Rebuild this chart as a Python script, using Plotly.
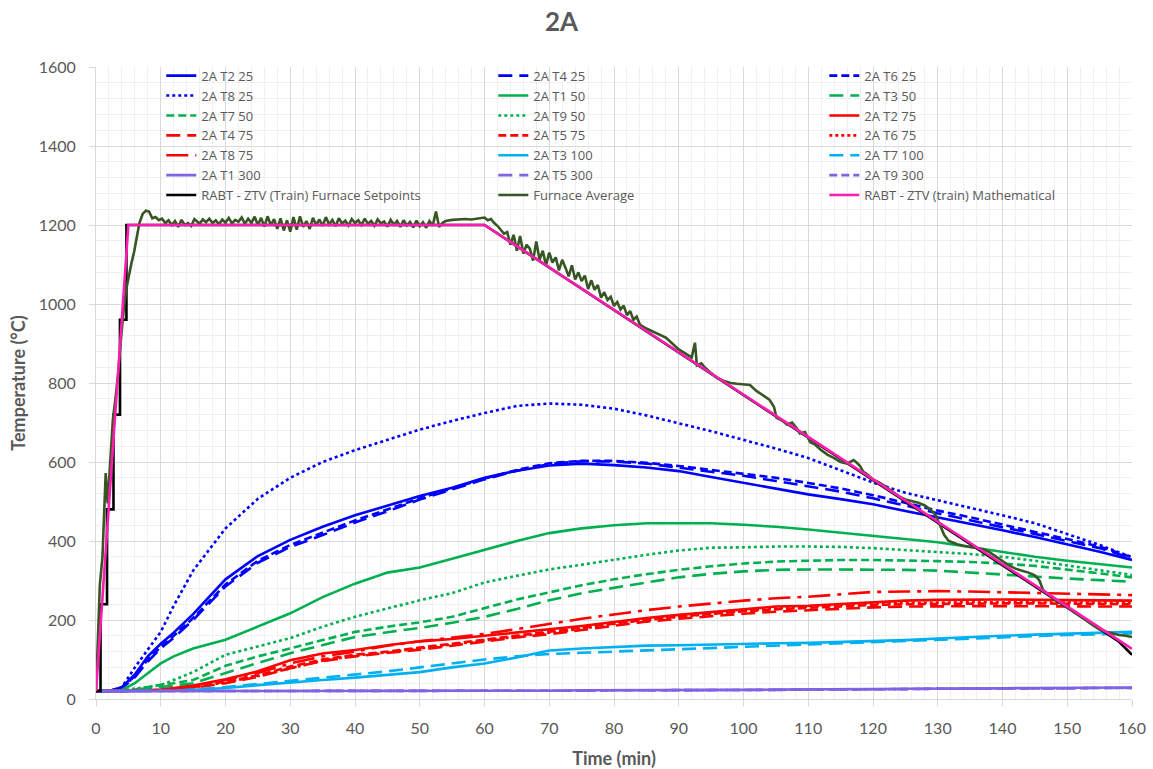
import plotly.graph_objects as go

# ---- time grid (min) shared by the thermocouple series ----
time_min = [0, 2, 4, 6, 8, 10, 12, 15, 20, 25, 30, 35, 40, 45, 50, 55, 60, 65, 70, 75,
            80, 85, 90, 95, 100, 105, 110, 115, 120, 125, 130, 135, 140, 145, 150, 155, 160]

# ---- thermocouple readings (°C), depth 25 mm ----
t2_25 = [20, 20, 30, 62, 108, 140, 168, 215, 303, 362, 403, 436, 465, 490, 514, 535, 560, 578, 591, 596,
         592, 586, 577, 562, 547, 532, 518, 506, 493, 476, 460, 443, 427, 410, 392, 373, 352]
t4_25 = [20, 20, 28, 55, 95, 128, 155, 200, 285, 345, 385, 415, 447, 475, 505, 530, 556, 578, 595, 602,
         601, 596, 586, 575, 565, 552, 538, 525, 508, 490, 470, 452, 435, 418, 400, 382, 356]
t6_25 = [20, 20, 29, 58, 100, 132, 160, 205, 290, 350, 390, 422, 452, 480, 508, 533, 558, 580, 597, 603,
         603, 598, 590, 580, 570, 560, 547, 533, 516, 497, 477, 460, 441, 423, 405, 386, 359]
t8_25 = [20, 20, 30, 80, 125, 170, 236, 325, 432, 507, 560, 600, 630, 656, 682, 704, 724, 742, 748, 745,
         735, 718, 698, 678, 656, 634, 610, 580, 548, 522, 503, 485, 465, 445, 418, 390, 359]

# ---- depth 50 mm ----
t1_50 = [20, 20, 23, 40, 65, 90, 108, 128, 150, 184, 217, 258, 292, 320, 333, 355, 377, 400, 420, 432,
         440, 445, 445, 445, 441, 436, 429, 421, 413, 405, 397, 385, 372, 360, 350, 342, 333]
t3_50 = [20, 20, 20, 24, 27, 30, 34, 40, 66, 91, 116, 137, 157, 169, 180, 193, 208, 228, 250, 268,
         282, 295, 308, 317, 323, 327, 328, 328, 328, 327, 325, 320, 314, 309, 305, 301, 297]
t7_50 = [20, 20, 20, 24, 30, 36, 40, 48, 84, 108, 128, 149, 170, 183, 194, 208, 230, 252, 270, 288,
         303, 316, 327, 336, 343, 348, 350, 352, 352, 351, 349, 347, 343, 337, 328, 318, 308]
t9_50 = [20, 20, 22, 26, 30, 35, 48, 68, 112, 133, 154, 183, 208, 229, 250, 268, 295, 312, 328, 340,
         353, 365, 376, 383, 384, 386, 386, 385, 382, 377, 373, 367, 360, 350, 338, 326, 314]

# ---- depth 75 mm ----
t2_75 = [20, 20, 20, 21, 22, 24, 28, 34, 50, 70, 98, 115, 124, 136, 146, 152, 160, 168, 176, 185,
         195, 205, 213, 220, 228, 234, 236, 240, 245, 249, 251, 252, 252, 251, 250, 250, 249]
t4_75 = [20, 20, 20, 20, 21, 22, 24, 28, 40, 56, 78, 96, 108, 116, 125, 135, 145, 156, 164, 175,
         185, 196, 203, 210, 216, 221, 225, 229, 232, 234, 235, 235, 235, 235, 234, 234, 234]
t5_75 = [20, 20, 20, 20, 21, 22, 25, 30, 44, 60, 82, 100, 112, 120, 130, 140, 150, 160, 170, 180,
         190, 201, 209, 216, 222, 227, 231, 235, 238, 240, 241, 242, 242, 242, 241, 241, 240]
t6_75 = [20, 20, 20, 20, 21, 22, 24, 29, 42, 58, 78, 97, 110, 118, 128, 138, 147, 158, 168, 178,
         190, 200, 208, 216, 223, 229, 234, 238, 241, 243, 244, 245, 245, 245, 244, 244, 243]
t8_75 = [20, 20, 20, 21, 22, 23, 26, 32, 48, 66, 90, 108, 120, 135, 146, 155, 165, 177, 190, 203,
         214, 225, 234, 242, 249, 255, 259, 265, 271, 272, 273, 272, 270, 268, 266, 264, 263]

# ---- depth 100 mm ----
t3_100 = [20, 20, 20, 20, 20, 20, 21, 23, 28, 35, 42, 48, 54, 61, 68, 80, 90, 105, 123, 128,
          131, 135, 136, 138, 140, 141, 142, 144, 146, 149, 153, 157, 160, 163, 165, 167, 170]
t7_100 = [20, 20, 20, 20, 20, 20, 21, 24, 30, 38, 46, 53, 62, 70, 80, 90, 100, 108, 114, 117,
          120, 124, 127, 130, 133, 136, 139, 142, 145, 148, 151, 154, 157, 160, 162, 164, 166]

# ---- depth 300 mm ----
t1_300 = [20, 20, 20, 20, 20, 20, 20, 20, 20, 20, 20, 20, 20, 20, 20, 21, 21, 21, 21, 22,
          22, 22, 22, 23, 23, 24, 24, 25, 25, 26, 26, 27, 27, 28, 28, 29, 29]
t5_300 = [20, 20, 20, 20, 20, 20, 20, 20, 20, 20, 20, 20, 20, 20, 20, 20, 21, 21, 21, 21,
          22, 22, 22, 22, 23, 23, 24, 24, 25, 25, 26, 26, 27, 27, 27, 28, 28]
t9_300 = [20, 20, 20, 20, 20, 20, 20, 20, 20, 20, 20, 20, 20, 20, 20, 20, 21, 21, 21, 21,
          22, 22, 22, 22, 23, 23, 24, 24, 25, 25, 26, 26, 26, 27, 27, 28, 28]

# ---- furnace setpoints (stepped ramp, hold, then cooling) ----
sp_time = [0, 0.7, 0.7, 1.7, 1.7, 2.7, 2.7, 3.7, 3.7, 4.7, 4.7, 60, 158, 160]
sp_temp = [20, 20, 240, 240, 480, 480, 720, 720, 960, 960, 1200, 1200, 145, 112]

# ---- RABT-ZTV (train) mathematical curve ----
math_time = [0, 5, 60, 160]
math_temp = [20, 1200, 1200, 127]

# ---- furnace average, recorded in segments ----
fa_time_heat = [0, 0.3, 0.6, 1.0, 1.3, 1.5, 1.8, 2.2, 2.6, 3.0, 3.4, 3.8, 4.3, 4.7, 5.1, 5.5, 5.9,
                6.3, 6.7, 7.2, 7.7, 8.2, 8.7, 9.2, 9.7, 10.2, 10.7, 11.2, 11.7, 12.2, 12.7, 13.2,
                13.7, 14.2, 14.7, 15.2]
fa_temp_heat = [20, 180, 290, 360, 470, 572, 495, 610, 706, 760, 820, 900, 990, 1040, 1075, 1105,
                1133, 1170, 1205, 1228, 1236, 1234, 1217, 1220, 1212, 1216, 1205, 1212, 1200, 1210,
                1195, 1213, 1200, 1205, 1198, 1215]

fa_time_hold = [15.5, 16, 16.5, 17, 17.5, 18, 18.5, 19, 19.5, 20, 20.5, 21, 21.5, 22, 22.5, 23,
                23.5, 24, 24.5, 25, 25.5, 26, 26.5, 27, 27.5, 28, 28.5, 29, 29.5, 30, 30.5, 31,
                31.5, 32, 32.5, 33, 33.5, 34, 34.5, 35, 35.5, 36, 36.5, 37, 37.5, 38, 38.5, 39,
                39.5, 40, 40.5, 41, 41.5, 42, 42.5, 43, 43.5, 44, 44.5, 45, 45.5, 46, 46.5, 47,
                47.5, 48, 48.5, 49, 49.5, 50, 50.5, 51, 51.5, 52, 52.5, 53, 53.5, 54, 55, 56, 57,
                58, 59, 60, 60.5, 61, 61.5]
fa_temp_hold = [1210, 1203, 1214, 1207, 1216, 1205, 1212, 1202, 1214, 1206, 1218, 1204, 1213, 1208,
                1219, 1203, 1216, 1205, 1221, 1200, 1218, 1196, 1222, 1199, 1215, 1190, 1217, 1186,
                1212, 1183, 1220, 1188, 1222, 1195, 1210, 1190, 1218, 1200, 1214, 1198, 1220, 1202,
                1213, 1197, 1217, 1204, 1211, 1199, 1215, 1205, 1212, 1200, 1216, 1203, 1210, 1198,
                1214, 1204, 1209, 1196, 1213, 1201, 1210, 1195, 1212, 1199, 1208, 1194, 1211, 1197,
                1207, 1193, 1210, 1198, 1234, 1195, 1205, 1210, 1213, 1214, 1215, 1214, 1217, 1219,
                1212, 1215, 1205]

fa_time_cool1 = [62, 62.5, 63, 63.5, 64, 64.5, 65, 65.5, 66, 66.5, 67, 67.5, 68, 68.5, 69, 69.5,
                 70, 70.5, 71, 71.5, 72, 72.5, 73, 73.5, 74, 74.5, 75, 75.5, 76, 76.5, 77, 77.5,
                 78, 78.5, 79, 79.5, 80, 80.5, 81, 81.5, 82, 82.5, 83, 83.5, 84]
fa_temp_cool1 = [1198, 1188, 1178, 1182, 1150, 1175, 1135, 1172, 1128, 1150, 1140, 1110, 1158, 1112,
                 1135, 1098, 1130, 1105, 1118, 1085, 1112, 1092, 1070, 1098, 1062, 1080, 1058, 1072,
                 1038, 1060, 1036, 1048, 1016, 1030, 1010, 1018, 995, 1005, 986, 996, 972, 982, 960,
                 968, 948]

fa_time_cool2 = [85, 86, 87, 88, 89, 90, 91, 92, 92.5, 92.8, 93.5, 94, 95, 96, 97, 98, 99, 100, 101,
                 102, 103, 104, 104.7, 105.1, 106, 106.7, 107.5, 108.2, 108.7, 109.5, 110.3, 111,
                 112, 113, 114, 115, 116, 117, 117.5, 118, 118.5, 119, 120, 121, 122, 123, 124, 125,
                 126, 127, 128, 129, 129.7, 130.3, 131, 131.7, 133, 134, 135, 136, 137, 138, 139,
                 140, 141, 142, 143, 144, 145, 145.7, 146.3, 147, 148, 149, 150, 151, 152, 153, 154,
                 155, 156, 157, 158, 159, 160]
fa_temp_cool2 = [938, 930, 922, 915, 900, 885, 875, 865, 902, 845, 850, 840, 825, 812, 805, 800, 798,
                 796, 795, 780, 770, 758, 740, 712, 705, 695, 700, 686, 672, 676, 650, 645, 630, 618,
                 610, 600, 596, 605, 598, 590, 575, 570, 556, 548, 537, 525, 513, 505, 500, 497, 490,
                 478, 465, 440, 415, 400, 392, 388, 385, 382, 379, 372, 360, 350, 338, 330, 325, 320,
                 313, 300, 275, 265, 253, 243, 232, 222, 210, 198, 186, 176, 170, 166, 162, 160, 157]

fa_time = fa_time_heat + fa_time_hold + fa_time_cool1 + fa_time_cool2
fa_temp = fa_temp_heat + fa_temp_hold + fa_temp_cool1 + fa_temp_cool2

BLUE, GREEN, RED = "#0000FF", "#00B050", "#FF0000"
CYAN, PURPLE = "#00B0F0", "#7F63E4"
SHORT, LONG, DOT, LONGDOT = "8px,4px", "14px,7px", "3px,3px", "22px,7px,4px,7px"

series = [
    ("2A T2 25", t2_25, BLUE, "solid"),
    ("2A T4 25", t4_25, BLUE, LONG),
    ("2A T6 25", t6_25, BLUE, SHORT),
    ("2A T8 25", t8_25, BLUE, DOT),
    ("2A T1 50", t1_50, GREEN, "solid"),
    ("2A T3 50", t3_50, GREEN, LONG),
    ("2A T7 50", t7_50, GREEN, SHORT),
    ("2A T9 50", t9_50, GREEN, DOT),
    ("2A T2 75", t2_75, RED, "solid"),
    ("2A T4 75", t4_75, RED, LONG),
    ("2A T5 75", t5_75, RED, SHORT),
    ("2A T6 75", t6_75, RED, DOT),
    ("2A T8 75", t8_75, RED, LONGDOT),
    ("2A T3 100", t3_100, CYAN, "solid"),
    ("2A T7 100", t7_100, CYAN, LONG),
    ("2A T1 300", t1_300, PURPLE, "solid"),
    ("2A T5 300", t5_300, PURPLE, LONG),
    ("2A T9 300", t9_300, PURPLE, SHORT),
]

# legend entries are laid out row by row across three columns
LEGEND_COLS = ["legend", "legend2", "legend3"]

fig = go.Figure()
for i, (name, vals, color, dash) in enumerate(series):
    fig.add_trace(go.Scatter(x=time_min, y=vals, name=name, mode="lines",
                             legend=LEGEND_COLS[i % 3],
                             line=dict(color=color, width=2.6, dash=dash)))

fig.add_trace(go.Scatter(x=sp_time, y=sp_temp, name="RABT - ZTV (Train) Furnace Setpoints",
                         mode="lines", legend="legend", line=dict(color="#000000", width=2.6)))
fig.add_trace(go.Scatter(x=fa_time, y=fa_temp, name="Furnace Average",
                         mode="lines", legend="legend2", line=dict(color="#375623", width=2.6)))
fig.add_trace(go.Scatter(x=math_time, y=math_temp, name="RABT - ZTV (train) Mathematical",
                         mode="lines", legend="legend3", line=dict(color="#FF1CB0", width=2.6)))

FONT = "Lato, 'Open Sans', sans-serif"
GREY = "#595959"

legend_style = dict(orientation="v", y=1.01, xanchor="left", yanchor="top",
                    bgcolor="rgba(0,0,0,0)",
                    font=dict(size=13, color=GREY, family="'Open Sans', sans-serif"),
                    itemwidth=30, traceorder="normal")

fig.update_layout(
    width=1153, height=769,
    margin=dict(l=96, r=21, t=67, b=70),
    paper_bgcolor="white", plot_bgcolor="white",
    font=dict(family=FONT, color=GREY),
    title=dict(text="<b>2A</b>", x=0.487, xanchor="center", y=0.971, yanchor="middle",
               font=dict(size=26, color=GREY, family=FONT)),
    showlegend=True,
    legend=dict(x=0.063, **legend_style),
    legend2=dict(x=0.3835, **legend_style),
    legend3=dict(x=0.703, **legend_style),
)

fig.update_xaxes(
    range=[0, 160], dtick=10, tick0=0, automargin=False,
    showgrid=True, gridcolor="#D9D9D9", gridwidth=1,
    minor=dict(dtick=2, showgrid=True, gridcolor="#F0F0F0", gridwidth=1),
    showline=True, linecolor="#D9D9D9", linewidth=1,
    ticks="outside", ticklen=6, tickcolor="#D9D9D9",
    tickfont=dict(size=16, color=GREY), ticklabelstandoff=9,
    zeroline=False,
    title=dict(text="<b>Time (min)</b>", font=dict(size=18, color=GREY), standoff=18),
)
fig.update_yaxes(
    range=[0, 1600], dtick=200, tick0=0, automargin=False,
    showgrid=True, gridcolor="#D9D9D9", gridwidth=1,
    minor=dict(dtick=40, showgrid=True, gridcolor="#F0F0F0", gridwidth=1),
    showline=True, linecolor="#D9D9D9", linewidth=1,
    ticks="outside", ticklen=6, tickcolor="#D9D9D9",
    tickfont=dict(size=16, color=GREY), ticklabelstandoff=10,
    zeroline=False,
    title=dict(text="<b>Temperature (°C)</b>", font=dict(size=18, color=GREY), standoff=8),
)

fig.write_html("out.html")
